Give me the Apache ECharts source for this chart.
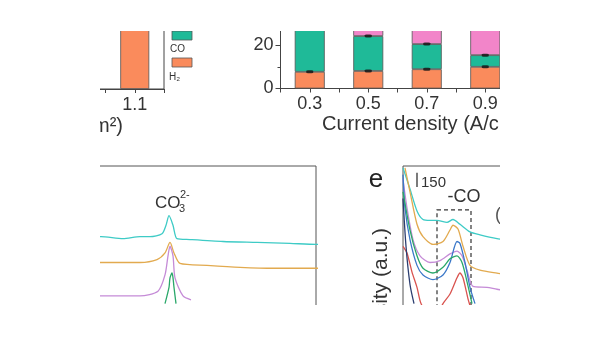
<!DOCTYPE html>
<html>
<head>
<meta charset="utf-8">
<script src="https://cdn.jsdelivr.net/npm/echarts@6/dist/echarts.min.js"></script>
<style>html,body{margin:0;padding:0;background:#fff}#c{width:600px;height:338px}</style>
</head>
<body>
<div id="c"></div>
<script>
// ---- Panel (top-left) bar: faradaic efficiency ----
const p1Cats = ['0.9', '1.1'];
const p1H2 = [null, 95];
// ---- Panel (top-right) stacked bars ----
const p2Cats = ['0.3', '0.5', '0.7', '0.9'];
const p2H2 = [7.7, 8.1, 8.9, 10.0];
const p2CO = [22.0, 16.1, 11.6, 5.4];
const p2Other = [6, 20, 20, 20];
const p2ErrX = [0.3, 0.5, 0.7, 0.9, 0.5, 0.7, 0.9];
const p2ErrY = [7.7, 8.1, 8.9, 10.0, 24.2, 20.5, 15.4];
const yTicks2 = [0, 20];
// ---- Panel (bottom-left) spectra around CO3 2- band ----
const s3CyanX = [919, 931, 975, 1009, 1029, 1053, 1061, 1067, 1075, 1083, 1109, 1175, 1243, 1309, 1361, 1379];
const s3CyanY = [650, 650, 630, 650, 650, 680, 770, 870, 770, 630, 620, 600, 590, 580, 570, 570];
const s3OrangeX = [919, 931, 1009, 1043, 1059, 1069, 1077, 1089, 1143, 1209, 1275, 1361, 1379];
const s3OrangeY = [380, 380, 380, 410, 480, 590, 480, 370, 350, 330, 320, 320, 320];
const s3PurpleX = [919, 931, 1009, 1045, 1059, 1065, 1069, 1075, 1079, 1095, 1111];
const s3PurpleY = [30, 30, 30, 80, 250, 450, 550, 450, 220, 30, -10];
const s3GreenX = [1059, 1067, 1069, 1073, 1075, 1077, 1081];
const s3GreenY = [-50, 120, 220, 270, 220, 120, -50];
// ---- Panel e (bottom-right) spectra around -CO band ----
const s4CyanX = [1950, 1964, 1978, 1990, 2004, 2018, 2038, 2050, 2064, 2084, 2104, 2138, 2154];
const s4CyanY = [1370, 1150, 920, 830, 820, 820, 800, 830, 780, 700, 670, 630, 620];
const s4OrangeX = [1954, 1964, 1978, 1990, 2010, 2030, 2044, 2050, 2060, 2070, 2084, 2104, 2138, 2154];
const s4OrangeY = [1370, 1120, 780, 650, 570, 600, 720, 770, 730, 550, 350, 300, 270, 260];
const s4PurpleX = [1950, 1958, 1970, 1984, 2004, 2024, 2044, 2058, 2068, 2078, 2090, 2118, 2138, 2154];
const s4PurpleY = [1250, 950, 620, 450, 380, 400, 470, 500, 450, 300, 130, 120, 100, 90];
const s4BlueX = [1950, 1954, 1964, 1978, 1990, 2010, 2030, 2044, 2058, 2064, 2074, 2084, 2094];
const s4BlueY = [1300, 950, 620, 350, 250, 200, 250, 380, 600, 580, 380, 120, -50];
const s4GreenX = [1950, 1964, 1978, 1990, 2010, 2030, 2044, 2058, 2068, 2078, 2088];
const s4GreenY = [1120, 720, 450, 320, 270, 330, 420, 450, 380, 180, -50];
const s4RedX = [1950, 1958, 1968, 1978, 1986, 2010, 2030, 2044, 2058, 2064, 2070, 2080, 2084];
const s4RedY = [550, 480, 280, 120, -50, -250, -50, 50, 220, 270, 220, 0, -70];
const s4NavyX = [1950, 1956, 1964, 1972];
const s4NavyY = [1050, 550, 150, -50];
const scaleBarX = [1978, 1978];
const scaleBarY = [1170, 1320];
const coBox = [[2018, 930], [2086, -400]];

const FONT = '"Liberation Sans", Arial, sans-serif';
const C_GREEN = '#1fba98', C_ORANGE = '#fa8b5c', C_PINK = '#f285c9';
const zip = (xs, ys) => xs.map((x, i) => [x, ys[i]]);
const oddTenth = v => { const k = Math.round(v * 10); return (k % 2 === 1) ? (k / 10).toFixed(1) : ''; };

const chart = echarts.init(document.getElementById('c'), null, {renderer: 'canvas'});
const axLine = {show: true, onZero: false, lineStyle: {color: '#444', width: 1}};
const lab = {fontSize: 18, color: '#333', fontFamily: FONT};
const hidden = {show: false};
const tick = {show: true, length: 4, lineStyle: {color: '#444'}};

function spec(name, xi, xs, ys, color) {
  return {name, type: 'line', xAxisIndex: xi, yAxisIndex: xi, data: zip(xs, ys), smooth: 0.25,
    symbol: 'none', lineStyle: {color, width: 1.3}, clip: true, silent: true, z: 3};
}
const barStyle = c => ({color: c, borderColor: '#555', borderWidth: 0.8});

chart.setOption({
  animation: false,
  grid: [
    {left: 47, top: 10, width: 117, height: 79, show: true, borderColor: '#444', borderWidth: 1, backgroundColor: 'transparent'},
    {left: 280.5, top: 23.5, width: 234, height: 65},
    {left: 60, top: 166, width: 256, height: 180, show: true, borderColor: '#555', borderWidth: 1},
    {left: 403, top: 166, width: 157, height: 180, show: true, borderColor: '#555', borderWidth: 1}
  ],
  xAxis: [
    {gridIndex: 0, type: 'value', position: 'bottom', min: 0.8, max: 1.2, interval: 0.1, axisLine: axLine,
      axisTick: tick, splitLine: hidden, axisLabel: Object.assign({formatter: oddTenth, margin: 7}, lab)},
    {gridIndex: 1, type: 'value', position: 'bottom', min: 0.2, max: 1.0, interval: 0.1, axisLine: axLine,
      axisTick: tick, splitLine: hidden, axisLabel: Object.assign({formatter: oddTenth, margin: 7}, lab)},
    {gridIndex: 2, type: 'value', min: 849, max: 1361, show: false, splitLine: hidden},
    {gridIndex: 3, type: 'value', min: 1950, max: 2264, show: false, splitLine: hidden},
    {gridIndex: 0, type: 'category', position: 'bottom', data: p1Cats, show: false},
    {gridIndex: 1, type: 'category', position: 'bottom', data: p2Cats, show: false}
  ],
  yAxis: [
    {gridIndex: 0, type: 'value', min: 0, max: 100, show: false, splitLine: hidden},
    {gridIndex: 1, type: 'value', min: 0, max: 30, interval: 20, axisLine: axLine,
      axisTick: {show: true, length: 5, lineStyle: {color: '#444'}},
      minorTick: {show: true, splitNumber: 2, length: 3, lineStyle: {color: '#444'}},
      splitLine: hidden, minorSplitLine: hidden,
      axisLabel: Object.assign({margin: 7, showMaxLabel: false,
        formatter: v => yTicks2.indexOf(v) >= 0 ? String(v) : ''}, lab)},
    {gridIndex: 2, type: 'value', min: -410, max: 1390, show: false, splitLine: hidden},
    {gridIndex: 3, type: 'value', min: -410, max: 1390, show: false, splitLine: hidden}
  ],
  series: [
    {name: 'H2 (1.1)', type: 'bar', xAxisIndex: 4, yAxisIndex: 0, barWidth: 29, data: p1H2, itemStyle: barStyle(C_ORANGE), silent: true},
    {name: 'H2', type: 'bar', stack: 'fe', xAxisIndex: 5, yAxisIndex: 1, barWidth: 30, data: p2H2, itemStyle: barStyle(C_ORANGE), silent: true},
    {name: 'CO', type: 'bar', stack: 'fe', xAxisIndex: 5, yAxisIndex: 1, barWidth: 30, data: p2CO, itemStyle: barStyle(C_GREEN), silent: true},
    {name: 'Other', type: 'bar', stack: 'fe', xAxisIndex: 5, yAxisIndex: 1, barWidth: 30, data: p2Other, itemStyle: barStyle(C_PINK), silent: true},
    {name: 'err', type: 'scatter', xAxisIndex: 1, yAxisIndex: 1, data: zip(p2ErrX, p2ErrY), symbol: 'roundRect', symbolSize: [7, 3], itemStyle: {color: '#111'}, silent: true, z: 5},
    spec('c3', 2, s3CyanX, s3CyanY, '#3ecbc6'),
    spec('o3', 2, s3OrangeX, s3OrangeY, '#e2aa4f'),
    spec('p3', 2, s3PurpleX, s3PurpleY, '#c58bd7'),
    spec('g3', 2, s3GreenX, s3GreenY, '#2aa86a'),
    spec('c4', 3, s4CyanX, s4CyanY, '#3ecbc6'),
    spec('o4', 3, s4OrangeX, s4OrangeY, '#e2aa4f'),
    spec('p4', 3, s4PurpleX, s4PurpleY, '#c58bd7'),
    spec('b4', 3, s4BlueX, s4BlueY, '#3b78c9'),
    spec('g4', 3, s4GreenX, s4GreenY, '#2aa86a'),
    spec('r4', 3, s4RedX, s4RedY, '#d9534f'),
    spec('n4', 3, s4NavyX, s4NavyY, '#2c3e70'),
    {name: 'scale', type: 'line', xAxisIndex: 3, yAxisIndex: 3, data: zip(scaleBarX, scaleBarY), symbol: 'none',
      lineStyle: {color: '#222', width: 1.2}, silent: true, z: 4,
      markArea: {silent: true, itemStyle: {color: 'rgba(0,0,0,0)', borderColor: '#333', borderWidth: 1.2, borderType: [4, 3]},
        data: [[{coord: coBox[0]}, {coord: coBox[1]}]]}}
  ],
  graphic: [
    {type: 'rect', z: 50, shape: {x: 172, y: 31, width: 20, height: 9}, style: {fill: C_GREEN, stroke: '#555', lineWidth: 0.8}},
    {type: 'text', z: 50, x: 170, y: 49, style: {text: 'CO', font: '10px ' + FONT, fill: '#333', textVerticalAlign: 'middle'}},
    {type: 'rect', z: 50, shape: {x: 172, y: 58, width: 20, height: 9}, style: {fill: C_ORANGE, stroke: '#555', lineWidth: 0.8}},
    {type: 'text', z: 50, x: 169, y: 77, style: {text: 'H₂', font: '10px ' + FONT, fill: '#333', textVerticalAlign: 'middle'}},
    {type: 'text', z: 50, x: 123, y: 126, style: {text: 'Current density (A/cm²)', font: '20px ' + FONT, fill: '#333', textAlign: 'right', textVerticalAlign: 'middle'}},
    {type: 'text', z: 50, x: 322, y: 124, style: {text: 'Current density (A/cm²)', font: '20px ' + FONT, fill: '#333', textAlign: 'left', textVerticalAlign: 'middle'}},
    {type: 'text', z: 50, x: 155, y: 203, style: {text: 'CO', font: '17px ' + FONT, fill: '#333', textVerticalAlign: 'middle'}},
    {type: 'text', z: 50, x: 179, y: 209, style: {text: '3', font: '11px ' + FONT, fill: '#333', textVerticalAlign: 'middle'}},
    {type: 'text', z: 50, x: 180, y: 195, style: {text: '2-', font: '11px ' + FONT, fill: '#333', textVerticalAlign: 'middle'}},
    {type: 'text', z: 50, x: 376, y: 180, style: {text: 'e', font: '26px ' + FONT, fill: '#222', textAlign: 'center', textVerticalAlign: 'middle'}},
    {type: 'text', z: 50, x: 421, y: 183, style: {text: '150', font: '15px ' + FONT, fill: '#333', textVerticalAlign: 'middle'}},
    {type: 'text', z: 50, x: 464, y: 197, style: {text: '-CO', font: '18px ' + FONT, fill: '#333', textAlign: 'center', textVerticalAlign: 'middle'}},
    {type: 'text', z: 50, x: 495, y: 215, style: {text: '(', font: '18px ' + FONT, fill: '#555', textVerticalAlign: 'middle'}},
    {type: 'text', z: 50, x: 381, y: 228, rotation: Math.PI / 2, style: {text: 'Intensity (a.u.)', font: '21px ' + FONT, fill: '#333', textAlign: 'right', textVerticalAlign: 'middle'}},
    {type: 'rect', z: 100, shape: {x: 0, y: 0, width: 600, height: 31}, style: {fill: '#fff'}},
    {type: 'rect', z: 100, shape: {x: 0, y: 0, width: 100, height: 338}, style: {fill: '#fff'}},
    {type: 'rect', z: 100, shape: {x: 500, y: 0, width: 100, height: 338}, style: {fill: '#fff'}},
    {type: 'rect', z: 100, shape: {x: 0, y: 305, width: 600, height: 33}, style: {fill: '#fff'}}
  ]
});
</script>
</body>
</html>
